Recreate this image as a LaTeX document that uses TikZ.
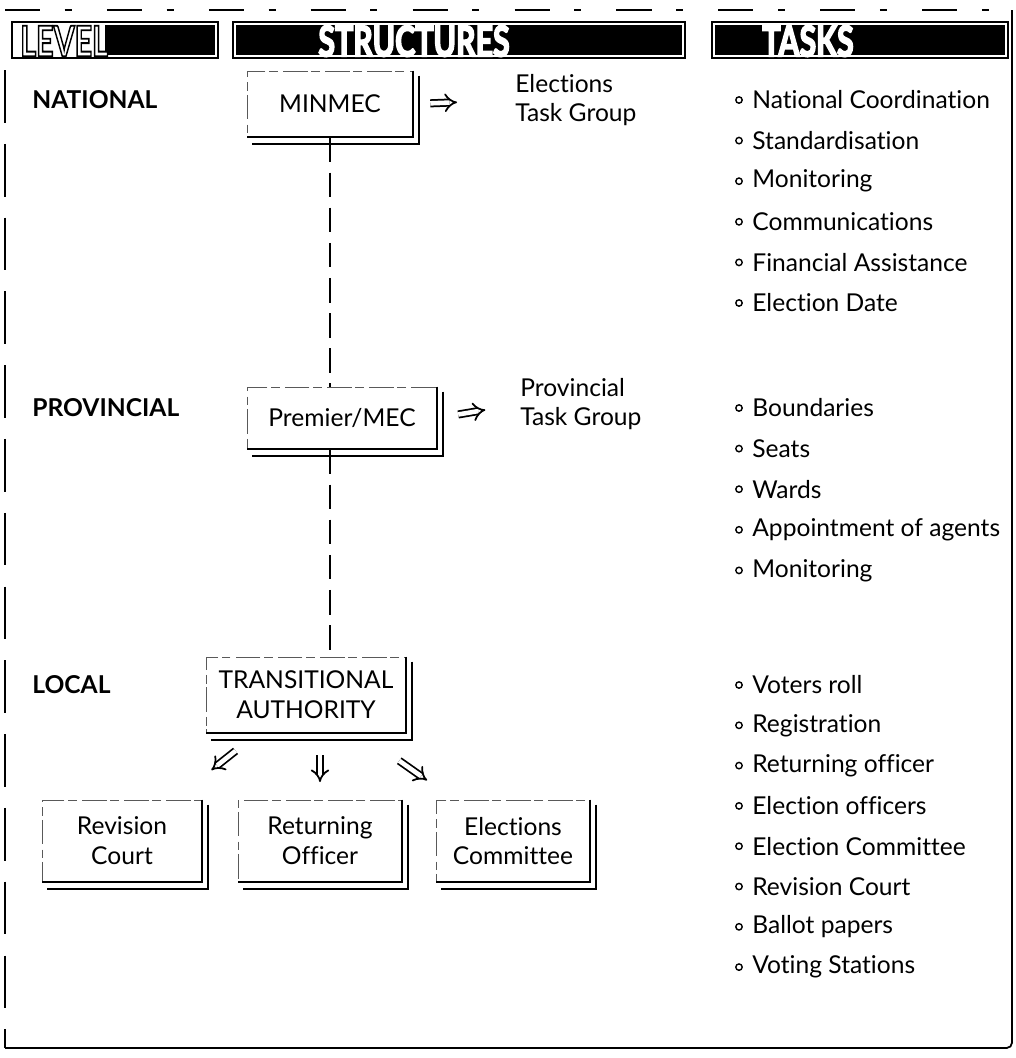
\documentclass[tikz,border=0pt]{standalone}
\usepackage{fontspec}
\setmainfont{Lato}[Ligatures=NoCommon]
\usetikzlibrary{arrows.meta,positioning,calc}
\def\boxshadow(#1){%
  \draw[line width=1.1pt] (#1.north east) -- (#1.south east) -- (#1.south west);
  \draw[line width=1.1pt] ($(#1.north east)+(6,5)$) -- ($(#1.south east)+(6,7)$) -- ($(#1.south west)+(5,7)$);}
% white letters, outline in black (#1=0) or white (#1=1)
\def\hollowtext#1#2{\textcolor{white}{\special{pdf:literal direct 2 Tr 1.1 w #1 G}#2\special{pdf:literal direct 0 Tr}}}
\tikzset{
  levellabel/.style={anchor=west, inner sep=0pt, font=\fontsize{14}{17}\selectfont\bfseries},
  structbox/.style={draw=black!65, line width=0.5pt, dash pattern=on 14pt off 3pt on 5pt off 2pt,
    align=center, inner sep=0pt},
  grouplabel/.style={anchor=west, align=left, inner sep=0pt},
  task/.style={anchor=west, inner sep=0pt},
  dashline/.style={line width=1.1pt, dash pattern=on 14pt off 6pt},
  hollowarrow/.style={double, double distance=2.6pt, line width=1pt, -{Implies[length=8pt]}},
  headtext/.style={font=\fontsize{24}{24}\selectfont\bfseries, inner sep=0pt}
}
\begin{document}
\begin{tikzpicture}[x=0.02cm, y=-0.02cm, font=\fontsize{14}{17}\selectfont]
  \useasboundingbox (0,0) rectangle (1016,1058);

  %%%%% frame %%%%%
  \draw[line width=0.8pt, dash pattern=on 20pt off 14pt on 4pt off 20pt] (5,10) -- (1012,10);
  \draw[line width=0.8pt, dash pattern=on 30pt off 12pt] (5,70) -- (5,1048);
  \draw[line width=1pt] (1012,10) -- (1012,1042) [rounded corners=3pt] -- (1012,1048) -- (5,1048);

  %%%%% header %%%%%
  \draw[line width=1pt] (12,22) rectangle (218,58);
  \fill (105,25) rectangle (215,55);
  \node[headtext, anchor=west] (hlevel) at (20,41) {\scalebox{0.72}[1]{\hollowtext{0}{LEVEL}}};
  \draw[line width=1pt] (233,22) rectangle (685,58);
  \fill (236,25) rectangle (682,55);
  \node[headtext] (hstruct) at (414,41) {\scalebox{0.72}[1]{\hollowtext{1}{STRUCTURES}}};
  \draw[line width=1pt] (712,22) rectangle (1008,58);
  \fill (715,25) rectangle (1005,55);
  \node[headtext] (htasks) at (808,41) {\scalebox{0.72}[1]{\hollowtext{1}{TASKS}}};

  %%%%% levels %%%%%
  \node[levellabel] (lnat) at (32,100) {NATIONAL};
  \node[levellabel] (lprov) at (32,408) {PROVINCIAL};
  \node[levellabel] (lloc) at (32,685) {LOCAL};

  %%%%% structures %%%%%
  \node[structbox, minimum width=3.32cm, minimum height=1.32cm] (minmec) at (330,104) {MINMEC};
  \node[structbox, minimum width=3.8cm, minimum height=1.24cm] (premier) at (342,418) {Premier/MEC};
  \node[structbox, minimum width=4cm, minimum height=1.52cm] (transauth) at (306,695) {TRANSITIONAL\\AUTHORITY};
  \node[structbox, minimum width=3.2cm, minimum height=1.64cm] (revcourt) at (122,841) {Revision\\Court};
  \node[structbox, minimum width=3.28cm, minimum height=1.64cm] (retofficer) at (320,841) {Returning\\Officer};
  \node[structbox, minimum width=3.08cm, minimum height=1.64cm] (elcommittee) at (513,841) {Elections\\Committee};
  \boxshadow(minmec)
  \boxshadow(premier)
  \boxshadow(transauth)
  \boxshadow(revcourt)
  \boxshadow(retofficer)
  \boxshadow(elcommittee)

  \node[grouplabel] (etg) at (515,100) {Elections\\Task Group};
  \node[grouplabel] (ptg) at (520,404) {Provincial\\Task Group};

  %%%%% connectors %%%%%
  \draw[dashline] (minmec.south) -- (minmec.south |- premier.north);
  \draw[dashline] (minmec.south |- premier.south) -- (minmec.south |- transauth.north);

  \draw[hollowarrow, shorten <=9.6pt, shorten >=33pt] (minmec.east) -- (etg.west);
  \draw[hollowarrow, shorten <=12pt, shorten >=20pt] (premier.east) -- (ptg.west);
  \draw[hollowarrow, shorten <=16pt, shorten >=27pt] (transauth) -- (revcourt);
  \draw[hollowarrow, shorten <=12.5pt, shorten >=10pt] (transauth.south -| retofficer) -- (retofficer.north);
  \draw[hollowarrow, shorten <=27pt, shorten >=19pt] (transauth) -- (elcommittee);

  %%%%% tasks %%%%%
  \foreach \t [count=\i from 0] in {National Coordination, Standardisation, Monitoring,
      Communications, Financial Assistance, Election Date}{
    \node[task] (nat\i) at (752,100+40.6*\i) {\t};
    \draw[line width=0.8pt] ($(nat\i.west)+(-13,0)$) circle (3.2);
  }
  \foreach \t [count=\i from 0] in {Boundaries, Seats, Wards, Appointment of agents, Monitoring}{
    \node[task] (prov\i) at (752,408+40.6*\i) {\t};
    \draw[line width=0.8pt] ($(prov\i.west)+(-13,0)$) circle (3.2);
  }
  \foreach \t [count=\i from 0] in {Voters roll, Registration, Returning officer, Election officers,
      Election Committee, Revision Court, Ballot papers, Voting Stations}{
    \node[task] (loc\i) at (752,685+40.3*\i) {\t};
    \draw[line width=0.8pt] ($(loc\i.west)+(-13,0)$) circle (3.2);
  }
\end{tikzpicture}
\end{document}
